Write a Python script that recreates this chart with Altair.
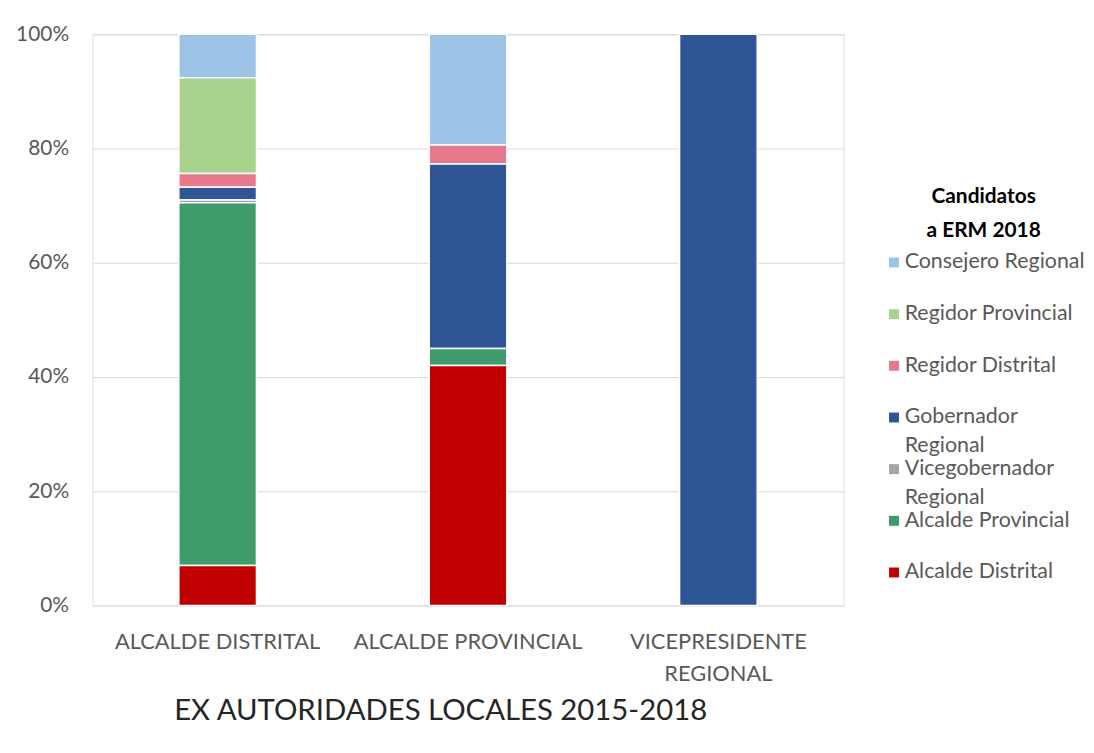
import altair as alt
import pandas as pd

categories = ["ALCALDE DISTRITAL", "ALCALDE PROVINCIAL", "VICEPRESIDENTE REGIONAL"]
series = ["Consejero Regional", "Regidor Provincial", "Regidor Distrital",
          "Gobernador Regional", "Vicegobernador Regional", "Alcalde Provincial",
          "Alcalde Distrital"]
colors = ["#9DC3E6", "#A9D18E", "#E8788C", "#2F5597", "#A5A5A5", "#3F9B6C", "#C00000"]

# percentages per series, one value per category
consejero_regional = [7.6, 19.4, 0.0]
regidor_provincial = [16.8, 0.0, 0.0]
regidor_distrital = [2.4, 3.3, 0.0]
gobernador_regional = [2.2, 32.3, 100.0]
vicegobernador_regional = [0.5, 0.0, 0.0]
alcalde_provincial = [63.5, 3.0, 0.0]
alcalde_distrital = [7.0, 42.0, 0.0]

values = [consejero_regional, regidor_provincial, regidor_distrital,
          gobernador_regional, vicegobernador_regional, alcalde_provincial,
          alcalde_distrital]

rows = []
for si, (s, vals) in enumerate(zip(series, values)):
    for c, v in zip(categories, vals):
        if v > 0:
            rows.append({"cat": c, "serie": s, "pct": v / 100.0,
                         "ord": len(series) - si})
df = pd.DataFrame(rows)

FONT = "Lato"
GREY = "#595959"

bars = alt.Chart(df).mark_bar(stroke="white", strokeWidth=1.5).encode(
    x=alt.X("cat:N", sort=categories,
            scale=alt.Scale(paddingInner=0.69, paddingOuter=0.345),
            axis=alt.Axis(
                title="EX AUTORIDADES LOCALES 2015-2018",
                titleFont=FONT, titleFontSize=29.5, titleFontWeight="normal",
                titleColor="#262626", titleX=350, titleY=115,
                titleAlign="center", titleBaseline="alphabetic",
                labelFont=FONT, labelFontSize=22, labelColor=GREY,
                labelAngle=0, labelPadding=26, labelLineHeight=32,
                labelExpr="datum.label == 'VICEPRESIDENTE REGIONAL' ? ['VICEPRESIDENTE', 'REGIONAL'] : datum.label",
                ticks=False, domain=False, labelLimit=400)),
    y=alt.Y("pct:Q", stack="zero",
            scale=alt.Scale(domain=[0, 1], nice=False),
            axis=alt.Axis(title=None, format=".0%", values=[0, 0.2, 0.4, 0.6, 0.8, 1.0],
                          labelFont=FONT, labelFontSize=21, labelColor=GREY,
                          labelPadding=24, ticks=False, domain=False,
                          gridColor="#D9D9D9", gridWidth=1.2)),
    color=alt.Color("serie:N",
                    scale=alt.Scale(domain=series, range=colors),
                    legend=alt.Legend(
                        title=["Candidatos", "a ERM 2018"],
                        titleFont=FONT, titleFontSize=21, titleFontWeight="bold",
                        titleColor="#000000", titleAnchor="middle", titleAlign="center",
                        titleLineHeight=34, titlePadding=11,
                        labelFont=FONT, labelFontSize=21.5, labelColor=GREY,
                        labelLimit=300, labelOffset=0,
                        labelExpr="datum.label == 'Gobernador Regional' ? ['Gobernador', 'Regional'] : datum.label == 'Vicegobernador Regional' ? ['Vicegobernador', 'Regional'] : datum.label",
                        symbolType="square", symbolSize=100, symbolStrokeWidth=0,
                        gridAlign="all",
                        orient="none", legendX=796, legendY=153,
                        rowPadding=0)),
    order=alt.Order("ord:Q", sort="ascending"),
)

chart = bars.properties(
    width=756, height=575,
    autosize=alt.AutoSizeParams(type="none"),
    padding={"left": 85, "top": 24, "right": 244, "bottom": 138},
).configure_view(stroke=None).configure(
    background="white",
    style={"guide-label": {"lineHeight": 29}},
)

chart.save("out.html", embed_options={"renderer": "svg", "actions": False})
